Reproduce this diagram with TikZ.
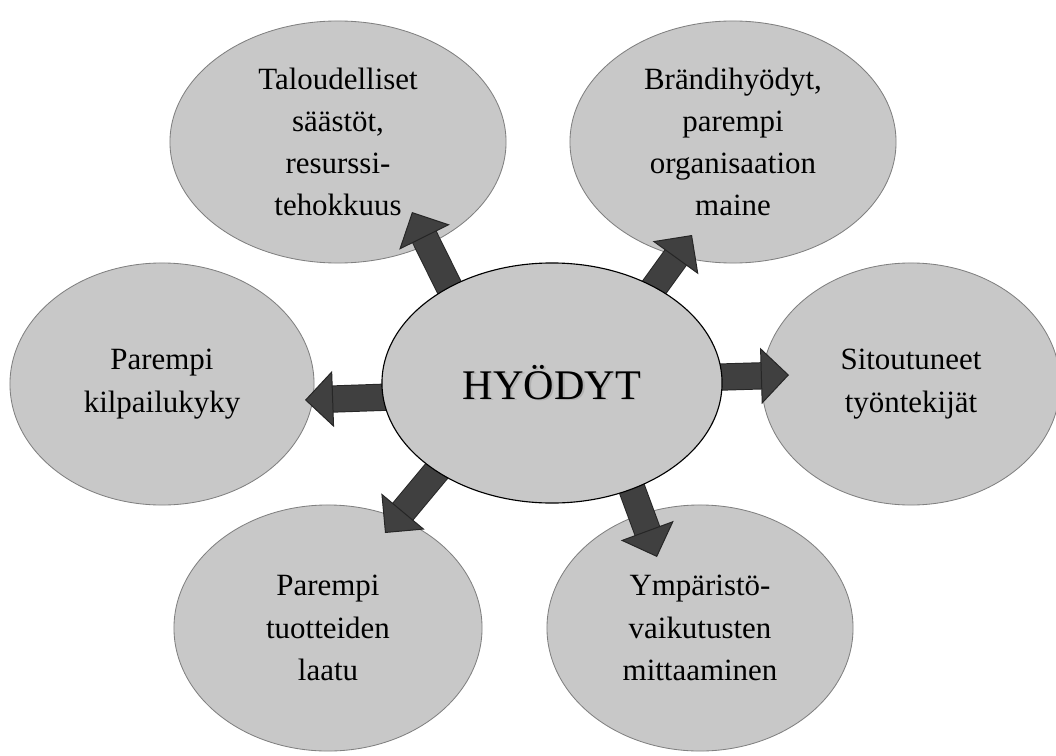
\documentclass[tikz,border=0pt]{standalone}
\usepackage{fontspec}
\setmainfont{Liberation Serif}
\usetikzlibrary{shapes.geometric,arrows.meta}
\definecolor{pallo}{HTML}{C8C8C8}
\definecolor{reuna}{HTML}{808080}
\definecolor{nuoli}{HTML}{404040}
\definecolor{nuolireuna}{HTML}{262626}
\newcommand\varjo[1]{\makebox[0pt][l]{\hspace{1.2pt}\raisebox{-1.2pt}{\textcolor{black!30}{#1}}}#1}
\begin{document}
\begin{tikzpicture}[x=0.025cm,y=-0.025cm]
        \useasboundingbox (0,0) rectangle (1056,755);
        \begin{scope}[every node/.style={ellipse,draw=reuna,line width=0.6pt,fill=pallo,inner sep=0pt,align=center,font=\fontsize{22}{30}\selectfont}]
        \node[minimum width=8.4cm,minimum height=6.05cm] (talous) at (338,142) {Taloudelliset\\säästöt,\\resurssi-\\tehokkuus};
        \node[minimum width=8.15cm,minimum height=6.05cm] (brandi) at (733,142) {Brändihyödyt,\\parempi\\organisaation\\maine};
        \node[minimum width=7.6cm,minimum height=6.05cm] (kilpailu) at (162,384) {Parempi\\kilpailukyky};
        \node[minimum width=7.45cm,minimum height=6.05cm] (tyontekijat) at (911,384) {Sitoutuneet\\työntekijät};
        \node[minimum width=7.7cm,minimum height=6.15cm] (laatu) at (328,628) {Parempi\\tuotteiden\\laatu};
        \node[minimum width=7.65cm,minimum height=6.15cm] (ymparisto) at (700,628) {Ympäristö-\\vaikutusten\\mittaaminen};
        \end{scope}
        \coordinate (a1) at (466,321);
        \coordinate (k1) at (412,212);
        \coordinate (a2) at (632,318);
        \coordinate (k2) at (692,235);
        \coordinate (a3) at (690,378);
        \coordinate (k3) at (789,375);
        \coordinate (a4) at (420,396);
        \coordinate (k4) at (305,400);
        \coordinate (a5) at (460,443);
        \coordinate (k5) at (385,533);
        \coordinate (a6) at (619,454);
        \coordinate (k6) at (657,557);
        \begin{scope}[every edge/.style={draw=nuoli,line width=18pt,-{Triangle[width=40pt,length=20pt,line width=0.7pt,color=nuolireuna,fill=nuoli]},preaction={draw=nuolireuna,line width=19.4pt,-,shorten >=19pt}}]
        \path (a1) edge (k1);
        \path (a2) edge (k2);
        \path (a3) edge (k3);
        \path (a4) edge (k4);
        \path (a5) edge (k5);
        \path (a6) edge (k6);
        \end{scope}
        \node[ellipse,draw=black,line width=0.8pt,fill=pallo,inner sep=0pt,minimum width=8.5cm,minimum height=6cm,font=\fontsize{30}{36}\selectfont] (hyodyt) at (552,383) {\varjo{HYÖDYT}};
\end{tikzpicture}
\end{document}
